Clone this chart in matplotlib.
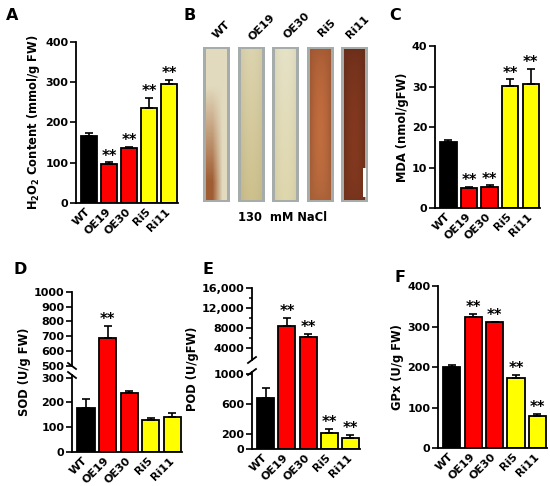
import numpy as np
import matplotlib
matplotlib.use('Agg')
import matplotlib.pyplot as plt
import matplotlib.transforms as mtransforms

plt.rcParams['font.family'] = ['DejaVu Sans']
plt.rcParams['font.weight'] = 'bold'
plt.rcParams['axes.labelweight'] = 'bold'
plt.rcParams['mathtext.fontset'] = 'dejavusans'

# data
lines = ['WT', 'OE19', 'OE30', 'Ri5', 'Ri11']
bar_colors = ['black', 'red', 'red', 'yellow', 'yellow']

h2o2 = [167, 98, 137, 236, 295]
h2o2_err = [7, 3, 3, 26, 11]
h2o2_sig = ['', '**', '**', '**', '**']

mda = [16.4, 4.9, 5.3, 30.1, 30.7]
mda_err = [0.5, 0.4, 0.35, 1.7, 3.7]
mda_sig = ['', '**', '**', '**', '**']

sod = [177, 686, 239, 128, 139]
sod_err = [36, 84, 8, 8, 17]
sod_sig = ['', '**', '', '', '']

pod = [680, 8470, 6130, 213, 147]
pod_err = [133, 1530, 730, 58, 44]
pod_sig = ['', '**', '**', '**', '**']

gpx = [201, 324, 310, 173, 78]
gpx_err = [4, 8, 2, 7, 6]
gpx_sig = ['', '**', '**', '**', '**']

W, H = 550, 486
fig = plt.figure(figsize=(W / 100, H / 100), dpi=100)


def px_axes(l, t, r, b):
    return fig.add_axes([l / W, 1 - b / H, (r - l) / W, (b - t) / H])


def bar_panel(ax, vals, errs, sig, ylabel):
    x = np.arange(len(lines))
    ax.bar(x, vals, width=0.8, color=bar_colors, edgecolor='black',
           linewidth=1.3, zorder=2)
    ax.errorbar(x, vals, yerr=[np.zeros(len(vals)), errs], fmt='none',
                ecolor='black', elinewidth=1.2, capsize=3, capthick=1.2,
                zorder=3)
    for xi, v, e, s in zip(x, vals, errs, sig):
        if s:
            ax.annotate(s, (xi, v + e), xytext=(0, -1), textcoords='offset points',
                        ha='center', va='bottom', fontsize=10.5)
    ax.set_xlim(-0.65, 4.45)
    ax.set_xticks(x)
    ax.set_xticklabels(lines, rotation=45, ha='right', va='center',
                       rotation_mode='anchor', fontsize=8)
    shift = mtransforms.ScaledTranslation(0.06, 0, fig.dpi_scale_trans)
    for lab in ax.get_xticklabels():
        lab.set_transform(lab.get_transform() + shift)
    ax.tick_params(axis='x', length=0, pad=5)
    ax.tick_params(axis='y', length=4, width=1.2, labelsize=8, pad=1.5)
    for sp in ['top', 'right']:
        ax.spines[sp].set_visible(False)
    for sp in ['left', 'bottom']:
        ax.spines[sp].set_linewidth(1.3)
    ax.set_ylabel(ylabel, fontsize=8.3, labelpad=2)


def broken_scale(ax, knots_data, knots_disp):
    kd = np.asarray(knots_data, float)
    kp = np.asarray(knots_disp, float)
    ax.set_yscale('function', functions=(lambda y: np.interp(y, kd, kp),
                                         lambda y: np.interp(y, kp, kd)))


def broken_spine(ax, low_end, high_start, slant):
    # low_end / high_start in axes fraction, slant = +1 for "/", -1 for "\"
    kw = dict(transform=ax.transAxes, color='black', lw=1.3, clip_on=False)
    ax.spines['left'].set_visible(False)
    ax.plot([0, 0], [0, low_end], **kw)
    ax.plot([0, 0], [high_start, 1], **kw)
    bb = ax.get_position()
    dx = 4 / (bb.width * W)
    dy = 3 / (bb.height * H)
    for yc in (low_end, high_start):
        ax.plot([-dx, dx], [yc - slant * dy, yc + slant * dy], **kw)


# A
axA = px_axes(76, 42, 178, 203)
bar_panel(axA, h2o2, h2o2_err, h2o2_sig, r'$\mathbf{H_2O_2}$ Content (mmol/g FW)')
axA.set_ylim(0, 400)
axA.set_yticks([0, 100, 200, 300, 400])

# C
axC = px_axes(435, 46, 540, 208)
bar_panel(axC, mda, mda_err, mda_sig, 'MDA (nmol/gFW)')
axC.set_ylim(0, 40)
axC.set_yticks([0, 10, 20, 30, 40])

# D  (broken axis 300 | 500)
axD = px_axes(72, 292, 182, 452)
bar_panel(axD, sod, sod_err, sod_sig, 'SOD (U/g FW)')
broken_scale(axD, [0, 300, 500, 1000], [0, 74.5, 86.5, 160])
axD.set_ylim(0, 1000)
axD.set_yticks([0, 100, 200, 300, 500, 600, 700, 800, 900, 1000])
axD.set_yticklabels(['0', '100', '200', '300', '500', '600', '700', '800', '900', '1000'])
broken_spine(axD, 77 / 160, 86 / 160, -1)

# E  (broken axis 1000 | 2000)
axE = px_axes(252, 288, 360, 449)
bar_panel(axE, pod, pod_err, pod_sig, 'POD (U/gFW)')
broken_scale(axE, [0, 1000, 2000, 16000], [0, 75, 91, 161])
axE.set_ylim(0, 16000)
axE.set_yticks([0, 200, 600, 1000, 4000, 8000, 12000, 16000])
axE.set_yticklabels(['0', '200', '600', '1000', '4000', '8000', '12,000', '16,000'])
axE.set_yticks([6000, 10000, 14000], minor=True)
axE.tick_params(axis='y', which='minor', length=2.5, width=1.1)
broken_spine(axE, 77 / 161, 89 / 161, 1)

# F
axF = px_axes(438, 286, 547, 448)
bar_panel(axF, gpx, gpx_err, gpx_sig, 'GPx (U/g FW)')
axF.set_ylim(0, 400)
axF.set_yticks([0, 100, 200, 300, 400])

# B  stained stems (photo panel)
bg = np.array([165, 172, 170]) / 255
stems = {
    'WT':   ([226, 218, 190], [160, 92, 50]),
    'OE19': ([220, 212, 175], [205, 192, 140]),
    'OE30': ([230, 226, 198], [222, 214, 172]),
    'Ri5':  ([160, 88, 50], [165, 95, 55]),
    'Ri11': ([105, 45, 25], [115, 50, 28]),
}
img_h, img_w = 155, 166
canvas = np.ones((img_h, img_w, 3))
offsets = [0, 35, 69, 104, 138]
sw = 27
t = np.linspace(0, 1, img_h)[:, None, None]
u = np.linspace(-1, 1, sw - 6)[None, :, None]
for (name, (top, bot)), off in zip(stems.items(), offsets):
    top = np.array(top) / 255
    bot = np.array(bot) / 255
    block = np.ones((img_h, sw, 3)) * bg
    col = top * (1 - t) + bot * t
    if name == 'WT':
        m = np.clip((t - 0.25) * 1.6, 0, 1) * np.clip(0.6 - u, 0, 1)
        col = top * (1 - m) + bot * m
    elif name in ('Ri5', 'Ri11'):
        light = 1 + 0.18 * (1 - u ** 2) * np.sin(np.pi * t) ** 0.5
        col = np.clip(col * light, 0, 1)
    else:
        col = col * (0.96 + 0.04 * (1 - u ** 2))
    block[2:img_h - 2, 3:sw - 3] = np.broadcast_to(col, (img_h, sw - 6, 3))[2:img_h - 2]
    canvas[:, off:off + sw] = block
canvas[121:150, 160:163] = 1.0
axB = px_axes(203, 47, 369, 202)
axB.imshow(canvas, aspect='auto', interpolation='nearest')
axB.axis('off')

b_label_pos = [(222, 30), (262, 27), (297, 25), (327, 28), (358, 27)]
for name, (lx, ly) in zip(lines, b_label_pos):
    fig.text(lx / W, 1 - ly / H, name, rotation=45, ha='center', va='center',
             fontsize=8)
fig.text(283 / W, 1 - 217 / H, '130  mM NaCl', ha='center', va='center', fontsize=8.3)

# panel letters
for letter, (lx, ly) in zip('ABCDEF', [(12, 15), (190, 15), (395, 15),
                                       (20, 269), (208, 269), (400, 277)]):
    fig.text(lx / W, 1 - ly / H, letter, ha='center', va='center', fontsize=11.5)

fig.savefig('out.png', dpi=100)
